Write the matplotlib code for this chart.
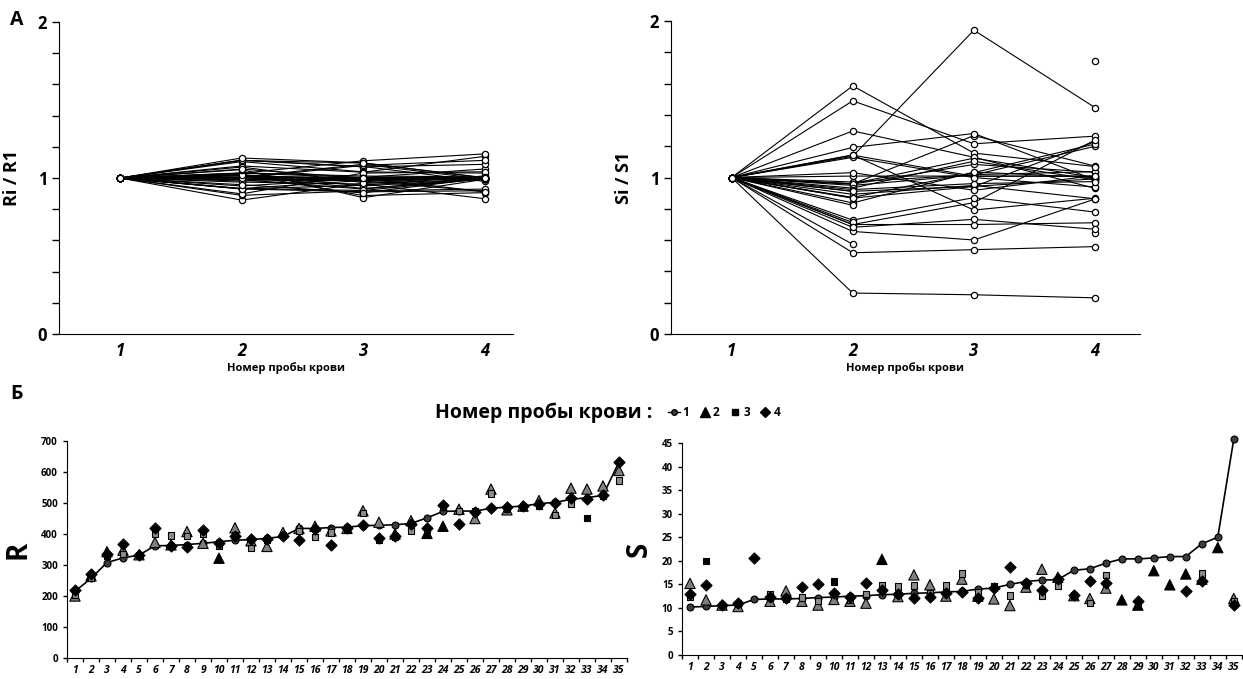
import numpy as np
import matplotlib
matplotlib.use('Agg')
import matplotlib.pyplot as plt
from matplotlib.lines import Line2D

nan = np.nan

# blood sample numbers and patients (sorted by first sample)
samples = [1, 2, 3, 4]
patients = list(range(1, 36))

# R, blood samples 1..4
R1 = [215, 257, 308, 323, 332, 362, 363, 366, 370, 375, 380, 382, 386, 392, 418, 418, 421, 422,
      427, 428, 430, 434, 452, 473, 474, 474, 483, 487, 490, 498, 502, 512, 517, 525, 632]
R2 = [200, 265, 343, 348, 333, 373, 365, 408, 370, 322, 420, 378, 360, 405, 418, 425, 410, 418,
      475, 438, 400, 443, 402, 425, 480, 450, 545, 478, 490, 508, 468, 548, 545, 555, 605]
R3 = [205, 258, 330, 335, 333, 402, 395, 393, 400, 362, 395, 355, 380, 397, 410, 390, 405, 418,
      468, 380, 392, 412, 415, 488, 475, 472, 530, 480, 488, 490, 462, 497, 452, 525, 572]
R4 = [218, 272, 335, 368, 333, 418, 360, 358, 412, 372, 392, 383, 385, 395, 382, 415, 365, 420,
      428, 388, 395, 432, 420, 492, 432, 470, 483, 486, 490, 498, 500, 515, 513, 525, 632]

# S, blood samples 1..4 (nan = no measurement)
S1 = [10.2, 10.3, 10.5, 10.6, 11.8, 11.9, 11.9, 12.0, 12.2, 12.3, 12.5, 12.6, 12.8, 12.9, 13.1,
      13.2, 13.4, 13.5, 14.0, 14.2, 15.0, 15.6, 15.9, 16.0, 18.0, 18.3, 19.5, 20.4, 20.4, 20.6,
      20.9, 20.9, 23.6, 25.0, 45.8]
S2 = [15.2, 11.7, 10.6, 10.3, nan, 11.4, 13.6, 11.4, 10.6, 11.8, 11.4, 11.0, 20.3, 12.4, 17.0,
      14.9, 12.5, 16.1, 12.5, 11.9, 10.5, 14.4, 18.2, 16.5, 12.6, 12.0, 14.2, 11.7, 10.6, 17.9,
      14.9, 17.2, 16.1, 22.8, 12.0]
S3 = [12.4, 20.0, 10.6, 10.8, nan, 12.9, 12.0, 12.2, 11.5, 15.6, 11.8, 13.0, 14.8, 14.5, 14.8,
      13.2, 14.8, 17.3, 13.3, 14.7, 12.6, 15.0, 12.6, 14.7, 12.6, 11.0, 17.0, nan, 11.0, nan,
      nan, nan, 17.3, nan, 11.5]
S4 = [12.9, 14.9, 10.6, 11.0, 20.6, 12.3, 12.0, 14.4, 15.0, 13.2, 12.4, 15.3, 13.7, 12.9, 12.2,
      12.4, 13.2, 13.3, 12.1, 14.2, 18.6, 15.2, 13.8, 16.2, 12.8, 15.8, 15.2, nan, 11.4, nan,
      nan, 13.5, 15.8, nan, 10.6]

# patients whose markers are drawn black instead of gray
R_black_tri = [2, 3, 10, 21, 23, 24]
R_black_sq = [33]
S_black_tri = [13, 28, 29, 30, 31, 32, 33, 34]
S_black_sq = [2, 10]

plt.rcParams['font.family'] = ['Open Sans', 'DejaVu Sans']
plt.rcParams['font.weight'] = 'bold'

fig = plt.figure(figsize=(12.43, 6.79), dpi=100)

ax_r = fig.add_axes([0.0475, 0.508, 0.3652, 0.4596])
ax_s = fig.add_axes([0.5398, 0.508, 0.3773, 0.461])
ax_rb = fig.add_axes([0.0539, 0.0309, 0.4505, 0.3196])
ax_sb = fig.add_axes([0.5487, 0.0353, 0.4503, 0.3123])


def ratio_panel(ax, series, xmax, ylabel):
    first = series[0]
    for i in range(len(first)):
        y = [s[i] / first[i] for s in series]
        ax.plot(samples, y, color='black', lw=0.8, marker='o', ms=4.5,
                mfc='white', mec='black', mew=0.9)
    ax.set_xlim(0.5, xmax)
    ax.set_ylim(0, 2)
    yt = np.round(np.arange(0, 2.01, 0.2), 1)
    ax.set_yticks(yt)
    ax.set_yticklabels([str(int(v)) if v in (0, 1, 2) else '' for v in yt],
                       fontsize=12, fontweight='bold')
    ax.set_xticks(samples)
    ax.set_xticklabels([str(s) for s in samples], fontsize=12,
                       fontweight='bold', fontstyle='italic')
    ax.tick_params(axis='x', length=0, pad=6)
    ax.tick_params(axis='y', length=5, width=1, direction='out')
    ax.spines['top'].set_visible(False)
    ax.spines['right'].set_visible(False)
    ax.set_xlabel('Номер пробы крови', fontsize=8, fontweight='bold', labelpad=1)
    ax.set_ylabel(ylabel, fontsize=13, fontweight='bold', labelpad=12)


def value_panel(ax, series, black_tri, black_sq, ymax, ystep, ylabel):
    v1, v2, v3, v4 = series
    ax.plot(patients, v1, color='black', lw=1.2, marker='o', ms=5,
            mfc='#3c3c3c', mec='black', mew=0.8, zorder=2, clip_on=False)
    tri_c = ['black' if p in black_tri else '#808080' for p in patients]
    sq_c = ['black' if p in black_sq else '#8c8c8c' for p in patients]
    ax.scatter(patients, v2, marker='^', s=55, c=tri_c, edgecolors='black',
               linewidths=0.8, zorder=3)
    ax.scatter(patients, v3, marker='s', s=22, c=sq_c, edgecolors='black',
               linewidths=0.8, zorder=4)
    ax.scatter(patients, v4, marker='D', s=32, c='black', edgecolors='black',
               linewidths=0.8, zorder=5)
    ax.set_xlim(0.5, 35.5)
    ax.set_ylim(0, ymax)
    ax.set_yticks(np.arange(0, ymax + 0.1, ystep))
    ax.tick_params(axis='y', labelsize=7, length=3, width=1, direction='out')
    for lab in ax.get_yticklabels():
        lab.set_fontweight('bold')
    ax.set_xticks(patients)
    ax.set_xticklabels([str(p) for p in patients], fontsize=7.5,
                       fontweight='bold', fontstyle='italic')
    ax.set_xticks(np.arange(0.5, 36, 1), minor=True)
    ax.tick_params(axis='x', which='major', length=0, pad=5)
    ax.tick_params(axis='x', which='minor', length=3, width=1, direction='out')
    ax.spines['top'].set_visible(False)
    ax.spines['right'].set_visible(False)
    ax.set_ylabel(ylabel, fontsize=20, fontweight='bold', labelpad=6)


ratio_panel(ax_r, [R1, R2, R3, R4], 4.23, 'Ri / R1')
ratio_panel(ax_s, [S1, S2, S3, S4], 4.37, 'Si / S1')
value_panel(ax_rb, [R1, R2, R3, R4], R_black_tri, R_black_sq, 700, 100, 'R')
value_panel(ax_sb, [S1, S2, S3, S4], S_black_tri, S_black_sq, 45, 5, 'S')

fig.text(0.008, 0.97, 'А', fontsize=14, fontweight='bold', va='center')
fig.text(0.008, 0.42, 'Б', fontsize=14, fontweight='bold', va='center')
fig.text(0.35, 0.392, 'Номер пробы крови :', fontsize=14, fontweight='bold',
         ha='left', va='center')

handles = [
    Line2D([], [], color='black', lw=1, marker='o', ms=4, mfc='#3c3c3c', mec='black'),
    Line2D([], [], color='none', marker='^', ms=7, mfc='black', mec='black'),
    Line2D([], [], color='none', marker='s', ms=4, mfc='black', mec='black'),
    Line2D([], [], color='none', marker='D', ms=5, mfc='black', mec='black'),
]
fig.legend(handles, ['1', '2', '3', '4'], loc='center left',
           bbox_to_anchor=(0.533, 0.392), ncol=4, frameon=False,
           prop={'size': 8.5, 'weight': 'bold'}, handlelength=1.0,
           handletextpad=0.2, columnspacing=0.8, borderpad=0)

fig.savefig('out.png', dpi=100)
